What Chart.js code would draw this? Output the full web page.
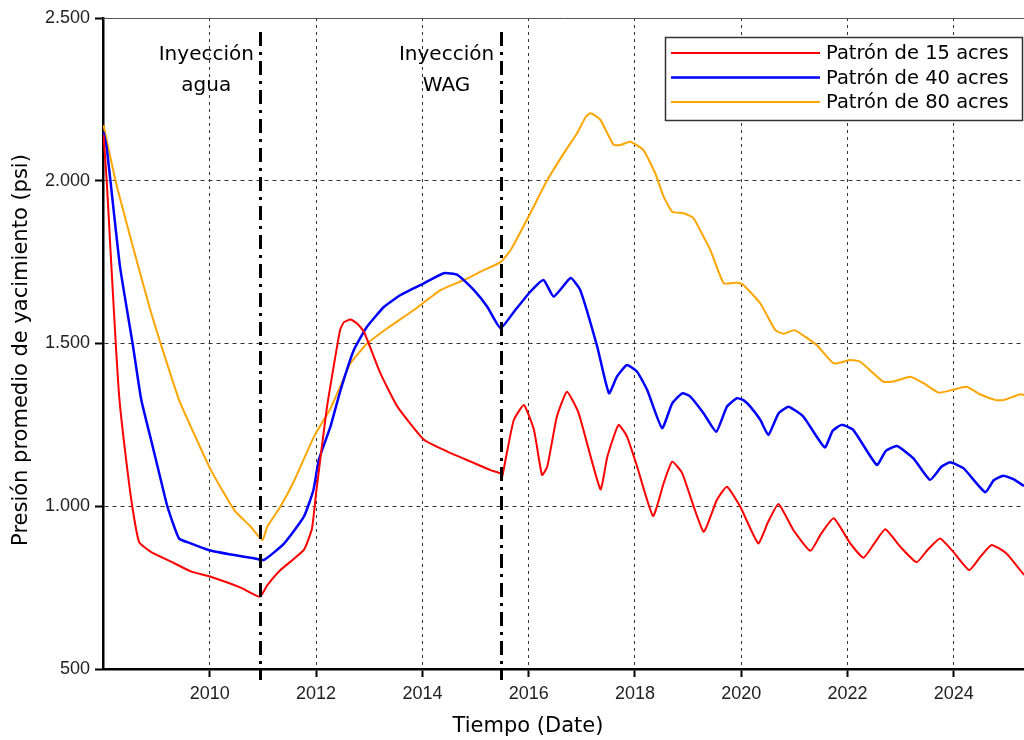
<!DOCTYPE html>
<html>
<head>
<meta charset="utf-8">
<script src="https://cdn.jsdelivr.net/npm/chart.js@4"></script>
<style>
    html, body { margin: 0; padding: 0; background: #fff; }
    #presion { display: block; }
</style>
</head>
<body>
<canvas id="presion" width="1024" height="740"></canvas>
<script>
// Series labels and colours
const seriesLabels = ["Patrón de 15 acres", "Patrón de 40 acres", "Patrón de 80 acres"];
const seriesColors = ["#ff0000", "#0000ff", "#ffa500"];

// Patrón de 15 acres (year, psi)
const years15 = [2008.0, 2008.06, 2008.13, 2008.23, 2008.3, 2008.42, 2008.54, 2008.67, 2008.89, 2009.27,
    2009.64, 2010.0, 2010.58, 2010.94, 2011.08, 2011.33, 2011.77, 2011.92, 2012.0, 2012.2,
    2012.45, 2012.52, 2012.65, 2012.78, 2012.9, 2013.21, 2013.53, 2014.03, 2014.47, 2014.91,
    2015.28, 2015.47, 2015.5, 2015.6, 2015.72, 2015.91, 2016.1, 2016.25, 2016.35, 2016.53,
    2016.72, 2016.94, 2017.35, 2017.48, 2017.69, 2017.85, 2018.04, 2018.34, 2018.54, 2018.7,
    2018.89, 2019.29, 2019.54, 2019.73, 2019.98, 2020.32, 2020.5, 2020.7, 2020.98, 2021.3,
    2021.5, 2021.74, 2022.05, 2022.3, 2022.5, 2022.71, 2022.99, 2023.3, 2023.5, 2023.74,
    2023.99, 2024.29, 2024.5, 2024.71, 2024.99, 2025.32];
const psi15 = [2140, 2000, 1790, 1500, 1327, 1150, 1000, 890, 860, 830,
    800, 784, 750, 722, 757, 804, 866, 930, 1040, 1300,
    1541, 1565, 1574, 1560, 1536, 1408, 1306, 1204, 1168, 1137,
    1111, 1101, 1090, 1173, 1265, 1311, 1234, 1096, 1122, 1275,
    1352, 1286, 1052, 1152, 1250, 1214, 1122, 970, 1071, 1137,
    1101, 922, 1019, 1060, 999, 886, 950, 1007, 927, 863,
    915, 963, 886, 842, 885, 929, 876, 828, 865, 901,
    860, 804, 845, 881, 855, 789];

// Patrón de 40 acres (year, psi)
const years40 = [2008.0, 2008.06, 2008.13, 2008.31, 2008.55, 2008.71, 2008.9, 2009.05, 2009.2, 2009.42,
    2009.64, 2009.99, 2010.46, 2010.83, 2011.02, 2011.4, 2011.77, 2011.95, 2012.05, 2012.27,
    2012.46, 2012.71, 2012.96, 2013.28, 2013.59, 2014.03, 2014.4, 2014.66, 2014.97, 2015.22,
    2015.47, 2015.72, 2016.03, 2016.28, 2016.47, 2016.79, 2016.97, 2017.29, 2017.51, 2017.66,
    2017.85, 2018.04, 2018.23, 2018.51, 2018.7, 2018.89, 2019.04, 2019.29, 2019.53, 2019.73,
    2019.92, 2020.04, 2020.17, 2020.36, 2020.51, 2020.7, 2020.89, 2021.17, 2021.57, 2021.72,
    2021.89, 2022.11, 2022.55, 2022.72, 2022.93, 2023.24, 2023.55, 2023.77, 2023.93, 2024.18,
    2024.59, 2024.75, 2024.93, 2025.12, 2025.32];
const psi40 = [2150, 2100, 2000, 1736, 1497, 1327, 1200, 1100, 1000, 901,
    886, 865, 850, 840, 835, 886, 968, 1050, 1142, 1245,
    1357, 1480, 1552, 1613, 1649, 1685, 1716, 1711, 1664, 1613,
    1547, 1597, 1659, 1695, 1644, 1701, 1664, 1490, 1347, 1398,
    1434, 1413, 1357, 1240, 1316, 1347, 1337, 1286, 1229, 1306,
    1332, 1326, 1306, 1265, 1219, 1285, 1306, 1275, 1181, 1232,
    1250, 1234, 1127, 1170, 1185, 1147, 1081, 1122, 1135, 1117,
    1043, 1080, 1094, 1083, 1062];

// Patrón de 80 acres (year, psi)
const years80 = [2008.0, 2008.23, 2008.57, 2008.88, 2009.08, 2009.42, 2009.7, 2010.02, 2010.46,
    2010.77, 2010.99, 2011.08, 2011.33, 2011.58, 2011.96, 2012.27, 2012.46, 2012.65, 2012.96,
    2013.34, 2013.84, 2014.34, 2014.78, 2015.16, 2015.47, 2015.66, 2016.03, 2016.35, 2016.66,
    2016.91, 2017.08, 2017.16, 2017.25, 2017.35, 2017.6, 2017.73, 2017.91, 2018.16, 2018.38,
    2018.54, 2018.7, 2018.92, 2019.1, 2019.29, 2019.42, 2019.67, 2019.92, 2020.04, 2020.36,
    2020.64, 2020.8, 2021.0, 2021.42, 2021.74, 2022.05, 2022.24, 2022.67, 2022.86, 2023.18,
    2023.43, 2023.71, 2023.96, 2024.24, 2024.49, 2024.79, 2024.93, 2025.25, 2025.32];
const psi80 = [2171, 1997, 1787, 1603, 1497, 1327, 1224, 1111, 988,
    937, 896, 937, 999, 1076, 1214, 1300, 1370, 1440, 1500,
    1547, 1603, 1664, 1695, 1726, 1750, 1787, 1900, 2002, 2084,
    2146, 2198, 2207, 2200, 2187, 2110, 2110, 2120, 2094, 2023,
    1951, 1905, 1900, 1885, 1828, 1787, 1685, 1687, 1680, 1623,
    1541, 1530, 1541, 1495, 1439, 1449, 1444, 1383, 1383, 1398,
    1378, 1349, 1357, 1367, 1344, 1326, 1326, 1344, 1342];

// Axis ticks
const xTickYears = [2010, 2012, 2014, 2016, 2018, 2020, 2022, 2024];
const yTickValues = [500, 1000, 1500, 2000, 2500];

// Injection phase markers
const phaseYears = [2010.95, 2015.47];
const phaseLabels = [["Inyección", "agua"], ["Inyección", "WAG"]];

// zip years and values into {x, y} points
function toPoints(years, values) {
    return years.map((yr, i) => ({x: yr, y: values[i]}));
}

// 2500 -> "2.500"
function formatPsi(v) {
    if (v < 1000) return String(v);
    return Math.floor(v / 1000) + "." + String(v % 1000).padStart(3, "0");
}

// Draws the top border, phase lines, annotations, legend and axis titles
const overlayPlugin = {
    id: "overlay",
    afterDatasetsDraw(chart) {
        const {ctx, chartArea, scales} = chart;
        const xs = scales.x;
        ctx.save();

        // thin top border
        ctx.strokeStyle = "#555";
        ctx.lineWidth = 1;
        ctx.beginPath();
        ctx.moveTo(chartArea.left, chartArea.top + 0.5);
        ctx.lineTo(chartArea.right, chartArea.top + 0.5);
        ctx.stroke();

        // dash-dot phase lines
        ctx.strokeStyle = "#000";
        ctx.lineWidth = 3;
        ctx.setLineDash([14, 6, 3, 6]);
        phaseYears.forEach((yr) => {
            const px = Math.round(xs.getPixelForValue(yr)) + 0.5;
            ctx.beginPath();
            ctx.moveTo(px, 32);
            ctx.lineTo(px, chartArea.bottom + 11);
            ctx.stroke();
        });
        ctx.setLineDash([]);

        // phase annotations
        ctx.fillStyle = "#000";
        ctx.font = '20px "DejaVu Sans"';
        ctx.textAlign = "center";
        ctx.textBaseline = "middle";
        phaseLabels.forEach((lines, i) => {
            const cx = xs.getPixelForValue(phaseYears[i]) - 54;
            ctx.fillText(lines[0], cx, 55);
            ctx.fillText(lines[1], cx, 86);
        });

        // legend box
        ctx.fillStyle = "#fff";
        ctx.fillRect(665, 37, 358, 84);
        ctx.strokeStyle = "#333";
        ctx.lineWidth = 1.5;
        ctx.strokeRect(665.5, 37.5, 357, 83);
        ctx.font = '19.5px "DejaVu Sans"';
        ctx.textAlign = "left";
        chart.data.datasets.forEach((ds, i) => {
            const ly = 53 + i * 24.5;
            ctx.strokeStyle = ds.borderColor;
            ctx.lineWidth = ds.borderWidth;
            ctx.beginPath();
            ctx.moveTo(671, ly);
            ctx.lineTo(820, ly);
            ctx.stroke();
            ctx.fillStyle = "#000";
            ctx.fillText(ds.label, 826, ly + 1);
        });

        // axis titles
        ctx.fillStyle = "#000";
        ctx.font = '21px "DejaVu Sans"';
        ctx.textAlign = "center";
        ctx.fillText("Tiempo (Date)", 528, 727);
        ctx.translate(22, 350);
        ctx.rotate(-Math.PI / 2);
        ctx.fillText("Presión promedio de yacimiento (psi)", 0, 0);

        ctx.restore();
    },
};

const datasets = [
    {label: seriesLabels[0], data: toPoints(years15, psi15), borderColor: seriesColors[0], borderWidth: 2},
    {label: seriesLabels[1], data: toPoints(years40, psi40), borderColor: seriesColors[1], borderWidth: 2.5},
    {label: seriesLabels[2], data: toPoints(years80, psi80), borderColor: seriesColors[2], borderWidth: 2},
];

const tickFont = {family: '"Liberation Sans", Arial, sans-serif', size: 18};

new Chart(document.getElementById("presion"), {
    type: "line",
    data: {datasets: datasets},
    options: {
        responsive: false,
        animation: false,
        devicePixelRatio: 1,
        layout: {padding: {top: 18, left: 0, right: 0, bottom: 0}},
        elements: {point: {radius: 0}, line: {tension: 0.15, borderJoinStyle: "round"}},
        plugins: {legend: {display: false}, tooltip: {enabled: false}},
        scales: {
            x: {
                type: "linear",
                min: 2007.99,
                max: 2025.32,
                afterBuildTicks: (s) => { s.ticks = xTickYears.map((v) => ({value: v})); },
                afterFit: (s) => { s.height = 71; },
                ticks: {color: "#222", font: tickFont, padding: 6, callback: (v) => String(v)},
                grid: {color: "#333", lineWidth: 1, tickLength: 8, tickColor: "#000", tickWidth: 2},
                border: {color: "#000", width: 2.5, dash: [3, 4]},
            },
            y: {
                min: 500,
                max: 2500,
                afterBuildTicks: (s) => { s.ticks = yTickValues.map((v) => ({value: v})); },
                afterFit: (s) => { s.width = 103; },
                ticks: {color: "#222", font: tickFont, padding: 5, callback: (v) => formatPsi(v)},
                grid: {
                    color: (c) => (c.tick && (c.tick.value === 2500 || c.tick.value === 500)) ? "rgba(0,0,0,0)" : "#333",
                    lineWidth: 1, tickLength: 8, tickColor: "#000", tickWidth: 2,
                },
                border: {color: "#000", width: 2.5, dash: [4, 4]},
            },
        },
    },
    plugins: [overlayPlugin],
});
</script>
</body>
</html>
